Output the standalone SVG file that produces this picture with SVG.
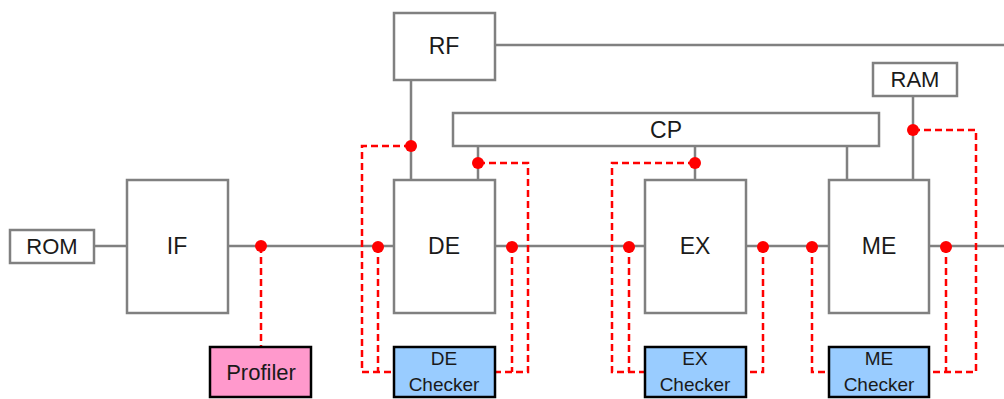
<svg xmlns="http://www.w3.org/2000/svg" width="1004" height="399" viewBox="0 0 1004 399">
<style>
.blk{fill:#fff;stroke:#808080;stroke-width:2.5}
.chk{fill:#99CCFF;stroke:#000;stroke-width:2.5}
.prof{fill:#FF99CC;stroke:#000;stroke-width:2.5}
.wire{fill:none;stroke:#808080;stroke-width:2.5}
.tap{fill:none;stroke:#FF0000;stroke-width:2.5;stroke-dasharray:7,4}
.dot{fill:#FF0000}
text{font-family:"Liberation Sans","DejaVu Sans",sans-serif;fill:#1a1a1a;text-anchor:middle}
.big{font-size:23px}
.mid{font-size:22px}
.sm{font-size:19px}
</style>
<g id="connectors">
<path class="wire" d="M94,246H127 M228,246H394 M495,246H645 M746,246H829 M929,246H1004"/>
<path class="wire" d="M495,45H1004 M411,80V180"/>
<path class="wire" d="M478,146V180 M695,146V180 M847,146V180 M913,96V180"/>
<path class="tap" d="M261,246V347"/>
<path class="tap" d="M411,146H362V372H394 M378,246V372 M478,163H528V372H495 M512,246V372"/>
<path class="tap" d="M695,163H612V372H645 M629,246V372 M763,246V372H746"/>
<path class="tap" d="M812,246V372H829 M946,246V372 M913,130H976V372H929"/>
<circle class="dot" cx="261" cy="246" r="6"/>
<circle class="dot" cx="411" cy="146" r="6"/>
<circle class="dot" cx="478" cy="163" r="6"/>
<circle class="dot" cx="378" cy="247" r="6"/>
<circle class="dot" cx="512" cy="247" r="6"/>
<circle class="dot" cx="695" cy="163" r="6"/>
<circle class="dot" cx="629" cy="247" r="6"/>
<circle class="dot" cx="763" cy="247" r="6"/>
<circle class="dot" cx="812" cy="247" r="6"/>
<circle class="dot" cx="946" cy="247" r="6"/>
<circle class="dot" cx="913" cy="130" r="6"/>
</g>
<g id="rom"><rect class="blk" x="10" y="230" width="84" height="33"/><text class="mid" x="52" y="254">ROM</text></g>
<g id="if"><rect class="blk" x="127" y="180" width="101" height="133"/><text class="big" x="177" y="254">IF</text></g>
<g id="rf"><rect class="blk" x="394" y="13" width="101" height="67"/><text class="big" x="444" y="54">RF</text></g>
<g id="cp"><rect class="blk" x="453" y="113" width="426" height="33"/><text class="big" x="666" y="138">CP</text></g>
<g id="ram"><rect class="blk" x="873" y="63" width="84" height="33"/><text class="mid" x="915" y="87">RAM</text></g>
<g id="de"><rect class="blk" x="394" y="180" width="101" height="133"/><text class="big" x="444" y="254">DE</text></g>
<g id="ex"><rect class="blk" x="645" y="180" width="101" height="133"/><text class="big" x="695" y="254">EX</text></g>
<g id="me"><rect class="blk" x="829" y="180" width="100" height="133"/><text class="big" x="879" y="254">ME</text></g>
<g id="profiler"><rect class="prof" x="210" y="347" width="101" height="50"/><text class="mid" x="261" y="380">Profiler</text></g>
<g id="de-checker"><rect class="chk" x="394" y="347" width="101" height="50"/><text class="sm" x="444" y="365">DE</text><text class="sm" x="444" y="391">Checker</text></g>
<g id="ex-checker"><rect class="chk" x="645" y="347" width="101" height="50"/><text class="sm" x="695" y="365">EX</text><text class="sm" x="695" y="391">Checker</text></g>
<g id="me-checker"><rect class="chk" x="829" y="347" width="100" height="50"/><text class="sm" x="879" y="365">ME</text><text class="sm" x="879" y="391">Checker</text></g>
</svg>
